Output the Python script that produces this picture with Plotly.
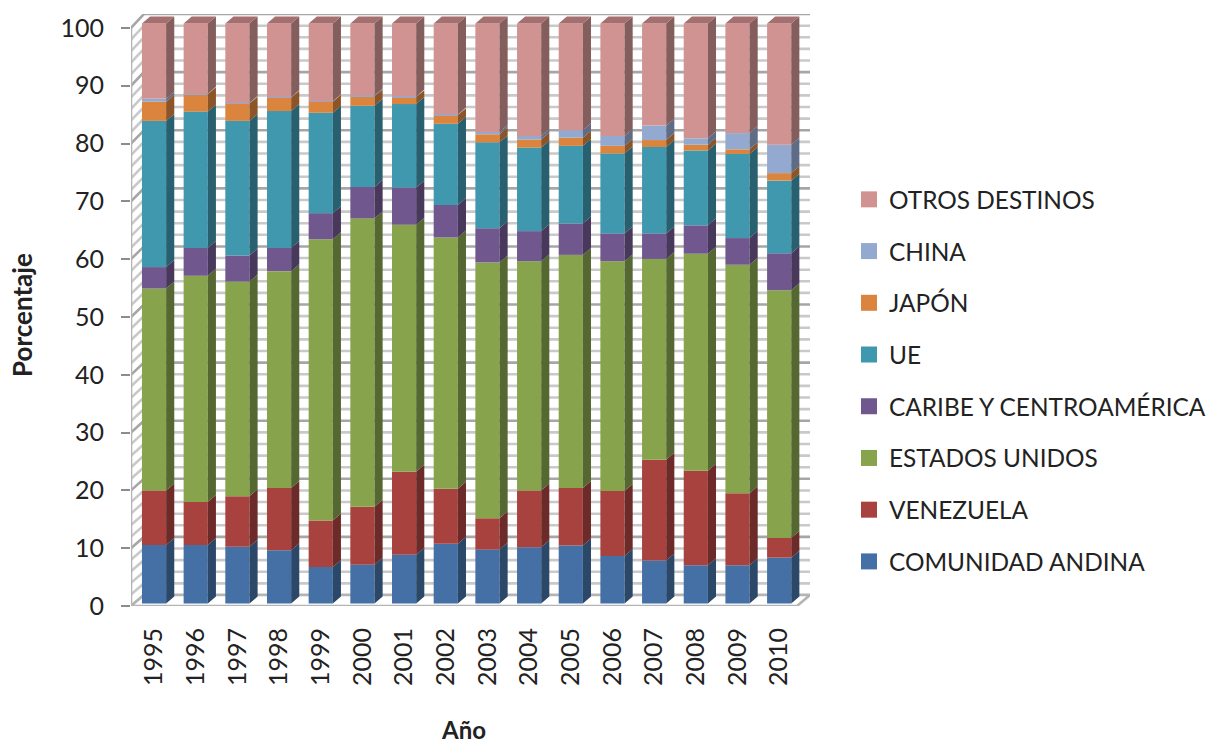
import plotly.graph_objects as go

years = [str(y) for y in range(1995, 2011)]
series_names = ["COMUNIDAD ANDINA", "VENEZUELA", "ESTADOS UNIDOS", "CARIBE Y CENTROAMÉRICA",
                "UE", "JAPÓN", "CHINA", "OTROS DESTINOS"]

comunidad_andina = [10.1, 10.1, 9.8, 9.2, 6.3, 6.7, 8.4, 10.3, 9.3, 9.7, 10.0, 8.2, 7.4, 6.6, 6.6, 7.9]
venezuela = [9.4, 7.4, 8.7, 10.7, 8.0, 10.0, 14.3, 9.5, 5.4, 9.8, 9.9, 11.2, 17.4, 16.3, 12.4, 3.4]
estados_unidos = [34.8, 39.0, 37.0, 37.4, 48.5, 49.7, 42.6, 43.3, 44.1, 39.5, 40.2, 39.6, 34.6, 37.4, 39.4, 42.7]
caribe = [3.7, 4.8, 4.5, 4.0, 4.5, 5.4, 6.4, 5.6, 5.9, 5.2, 5.4, 4.8, 4.4, 4.9, 4.6, 6.4]
ue = [25.2, 23.5, 23.2, 23.6, 17.3, 14.0, 14.4, 14.0, 14.8, 14.4, 13.4, 13.8, 14.9, 12.9, 14.5, 12.5]
japon = [3.3, 3.0, 3.0, 2.3, 1.9, 1.6, 1.2, 1.5, 1.4, 1.4, 1.4, 1.3, 1.2, 1.0, 0.8, 1.3]
china = [0.5, 0.1, 0.1, 0.1, 0.1, 0.2, 0.1, 0.1, 0.4, 0.6, 1.3, 1.7, 2.5, 1.1, 2.8, 4.9]
otros = [13.0, 12.1, 13.7, 12.7, 13.4, 12.4, 12.6, 15.7, 18.7, 19.4, 18.4, 19.4, 17.6, 19.8, 18.9, 20.9]
all_series = [comunidad_andina, venezuela, estados_unidos, caribe, ue, japon, china, otros]

front_colors = ["#4470A6", "#A8423F", "#87A44D", "#70588F", "#4098AF", "#DB843D", "#93A9CF", "#D19392"]
side_colors = ["#2B4868", "#6C2A28", "#566832", "#47385C", "#28606F", "#8C5427", "#5E6C85", "#845D5D"]
top_color = "#A66F6F"

FONT = "Lato"
TEXT = "#222222"
GRID = "#C9C9C9"
GRID_MAJOR = "#A6A6A6"
WALL = "#B4B4B4"

# 3d look: depth of the column and of the walls, in axis units
BAR_W = 0.58
BAR_DX = 0.195
BAR_DY = 1.2
WALL_X0 = -0.553
WALL_X1 = 15.43
WALL_DX = 0.31


def back_y(v):
    return 1.9 + 1.005 * v


fig = go.Figure()

# legend entries come first so the groups are listed top to bottom like the stack
for name, front in reversed(list(zip(series_names, front_colors))):
    fig.add_trace(go.Scatter(x=[None], y=[None], mode="markers", name=name, legendgroup=name,
                             marker=dict(symbol="square", size=16, color=front)))

# walls and floor
minor_x, minor_y, major_x, major_y = [], [], [], []
for v in range(0, 101, 2):
    xs = [WALL_X0, WALL_X0 + WALL_DX, WALL_X1 + WALL_DX, None]
    ys = [v, back_y(v), back_y(v), None]
    if v % 10 == 0:
        major_x += xs
        major_y += ys
    else:
        minor_x += xs
        minor_y += ys
fig.add_trace(go.Scatter(x=minor_x, y=minor_y, mode="lines", line=dict(color=GRID, width=2.6),
                         showlegend=False, hoverinfo="skip"))
fig.add_trace(go.Scatter(x=major_x, y=major_y, mode="lines", line=dict(color=GRID_MAJOR, width=2.6),
                         showlegend=False, hoverinfo="skip"))
fig.add_trace(go.Scatter(
    x=[WALL_X0, WALL_X1, WALL_X1 + WALL_DX, WALL_X0 + WALL_DX, WALL_X0],
    y=[0, 0, back_y(0), back_y(0), 0],
    mode="lines", fill="toself", fillcolor="white", line=dict(color=WALL, width=2.5),
    showlegend=False, hoverinfo="skip"))
# front edge of the left wall
fig.add_trace(go.Scatter(x=[WALL_X0, WALL_X0], y=[0, 100], mode="lines", line=dict(color=WALL, width=2.6),
                         showlegend=False, hoverinfo="skip", cliponaxis=False))

# columns, bottom series first
base = [0.0] * len(years)
for name, vals, front, side in zip(series_names, all_series, front_colors, side_colors):
    fig.add_trace(go.Bar(
        x=list(range(len(years))), y=vals, base=base, width=BAR_W, yaxis="y2",
        marker=dict(color=front, line=dict(width=0)),
        name=name, legendgroup=name, showlegend=False,
        customdata=years, hovertemplate="%{customdata}: %{y}<extra>" + name + "</extra>"))

    sx, sy = [], []
    for i in range(len(years)):
        xr = i + BAR_W / 2
        b, t = base[i], base[i] + vals[i]
        sx += [xr, xr + BAR_DX, xr + BAR_DX, xr, None]
        sy += [b, b + BAR_DY, t + BAR_DY, t, None]
    fig.add_trace(go.Scatter(x=sx, y=sy, yaxis="y2", mode="lines", fill="toself", fillcolor=side,
                             line=dict(width=0), legendgroup=name, showlegend=False, hoverinfo="skip"))
    base = [b + v for b, v in zip(base, vals)]

# top faces of the last series
tx, ty = [], []
for i in range(len(years)):
    xl, xr = i - BAR_W / 2, i + BAR_W / 2
    tx += [xl, xr, xr + BAR_DX, xl + BAR_DX, None]
    ty += [base[i], base[i], base[i] + BAR_DY, base[i] + BAR_DY, None]
fig.add_trace(go.Scatter(x=tx, y=ty, yaxis="y2", mode="lines", fill="toself", fillcolor=top_color,
                         line=dict(width=0), legendgroup=series_names[-1], showlegend=False,
                         hoverinfo="skip"))

fig.update_layout(
    width=1216, height=746,
    margin=dict(l=131, r=406, t=12, b=140),
    paper_bgcolor="white", plot_bgcolor="white",
    barmode="overlay",
    font=dict(family=FONT, color=TEXT),
    xaxis=dict(range=[WALL_X0, WALL_X1 + WALL_DX], tickvals=list(range(len(years))), ticktext=years,
               tickangle=-90, ticks="", showgrid=False, zeroline=False, showline=False,
               tickfont=dict(size=25, family=FONT, color=TEXT), ticklabelstandoff=16),
    yaxis=dict(range=[0, 102.41], tickvals=list(range(0, 101, 10)), ticks="outside", ticklen=9,
               tickwidth=2, tickcolor="#8C8C8C", showgrid=False, zeroline=False,
               showline=False, ticklabelstandoff=12, tickfont=dict(size=25, family=FONT, color=TEXT)),
    yaxis2=dict(range=[-0.43, 101.63], overlaying="y", visible=False),
    legend=dict(xref="container", yref="container", x=849 / 1216, y=1 - 177 / 746,
                xanchor="left", yanchor="top", maxheight=540,
                traceorder="grouped", tracegroupgap=17, itemsizing="trace",
                font=dict(size=24.4, family=FONT, color=TEXT), bgcolor="rgba(0,0,0,0)"),
    annotations=[
        dict(text="<b>Porcentaje</b>", xref="paper", yref="paper", x=(22 - 131) / 679, y=1 - (314 - 12) / 594,
             xanchor="center", yanchor="middle", textangle=-90, showarrow=False,
             font=dict(size=26, family=FONT, color=TEXT)),
        dict(text="<b>Año</b>", xref="paper", yref="paper", x=(463 - 131) / 679, y=1 - (730 - 12) / 594,
             xanchor="center", yanchor="middle", showarrow=False,
             font=dict(size=24, family=FONT, color=TEXT)),
    ],
)

fig.write_html("out.html", post_script="document.body.style.margin='0';", config=dict(displayModeBar=False))
